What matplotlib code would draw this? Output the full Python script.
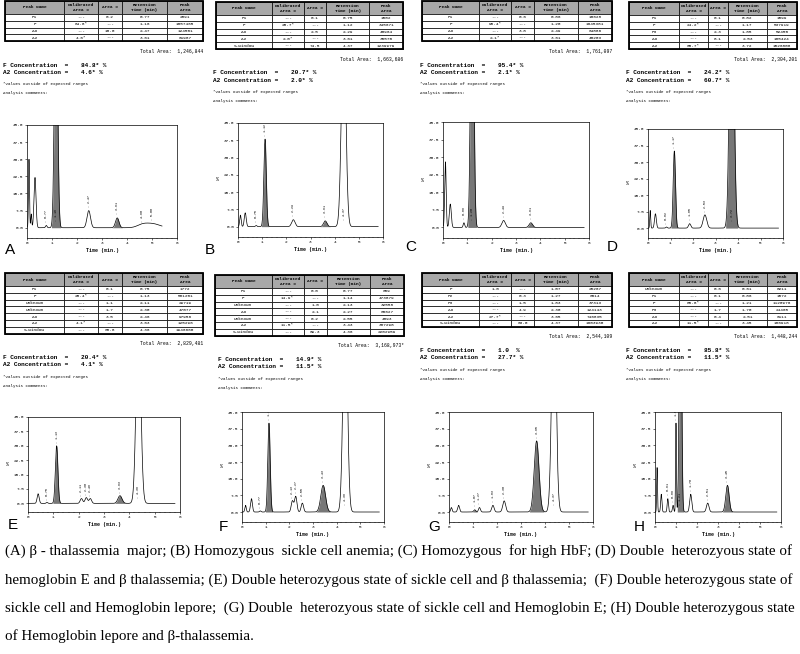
import numpy as np
import matplotlib.pyplot as plt
from matplotlib.patches import Rectangle

W, H = 800, 654
MONO = "Liberation Mono"

# ---- table data ----
col_labels = ["Peak Name", "Calibrated\nArea %", "Area %", "Retention\nTime (min)", "Peak\nArea"]

A_table = [["P1", "---", "0.2", "0.77", "2891"],
           ["F", "84.8*", "---", "1.16", "1057465"],
           ["Ao", "---", "10.0", "2.47", "124501"],
           ["A2", "4.6*", "---", "3.61", "61987"]]
B_table = [["P1", "---", "0.1", "0.75", "1502"],
           ["F", "20.7*", "---", "1.12", "345671"],
           ["Ao", "---", "2.5", "2.29", "40964"],
           ["A2", "2.0*", "---", "3.61", "35570"],
           ["S-window", "---", "74.5", "4.37", "1239979"]]
C_table = [["P1", "---", "0.6", "0.86", "10628"],
           ["F", "95.4*", "---", "1.20", "1645381"],
           ["Ao", "---", "3.8", "2.49", "64886"],
           ["A2", "2.1*", "---", "3.61", "40203"]]
D_table = [["P1", "---", "0.1", "0.82", "1599"],
           ["F", "24.2*", "---", "1.17", "537919"],
           ["P3", "---", "2.3", "1.85", "52450"],
           ["Ao", "---", "8.1", "2.53", "185424"],
           ["A2", "60.7*", "---", "3.72", "1526808"]]
E_table = [["P1", "---", "0.1", "0.75", "1772"],
           ["F", "20.4*", "---", "1.13", "581201"],
           ["Unknown", "---", "1.1", "2.11", "29719"],
           ["Unknown", "---", "1.7", "2.30", "47077"],
           ["Ao", "---", "3.5", "2.46", "97956"],
           ["A2", "4.1*", "---", "3.63", "125296"],
           ["S-window", "---", "68.8", "4.36", "1946660"]]
F_table = [["P1", "---", "0.0", "0.77", "659"],
           ["F", "14.9*", "---", "1.14", "473879"],
           ["Unknown", "---", "1.0", "2.13", "32558"],
           ["Ao", "---", "2.1", "2.27", "66627"],
           ["Unknown", "---", "0.2", "2.55", "4893"],
           ["A2", "11.5*", "---", "3.43", "387298"],
           ["S-window", "---", "69.3", "4.36", "2202959"]]
G_table = [["F", "1.0", "---", "1.07", "25267"],
           ["P2", "---", "0.3", "1.27", "6614"],
           ["P3", "---", "1.5", "1.83", "37313"],
           ["Ao", "---", "4.9", "2.30", "124143"],
           ["A2", "27.7*", "---", "3.65", "746835"],
           ["S-window", "---", "63.0", "4.37", "1603930"]]
H_table = [["Unknown", "---", "0.6", "0.61", "8211"],
           ["P1", "---", "0.1", "0.86", "1572"],
           ["F", "85.8*", "---", "1.21", "1120976"],
           ["P3", "---", "1.7", "1.70", "24465"],
           ["Ao", "---", "0.4", "2.51", "6111"],
           ["A2", "11.5*", "---", "3.45", "186918"]]

totals = ["1,246,844", "1,663,686", "1,761,097", "2,304,201",
          "2,829,481", "3,168,973*", "2,544,109", "1,448,244"]
f_conc = ["84.8*", "20.7*", "95.4*", "24.2*", "20.4*", "14.9*", "1.0 ", "85.8*"]
a2_conc = ["4.6*", "2.0*", "2.1*", "60.7*", "4.1*", "11.5*", "27.7*", "11.5*"]

# ---- chromatogram peaks (time min, height %, width min) ----
A_pk_t = [0.08, 0.17, 0.32, 0.77, 1.16, 2.47, 3.61, 4.6, 5.0]
A_pk_h = [30, 6, 22, 1.0, 120, 7.5, 4.3, 1.0, 1.8]
A_pk_w = [0.02, 0.02, 0.04, 0.03, 0.06, 0.07, 0.07, 0.2, 0.3]
B_pk_t = [0.1, 0.3, 0.75, 1.12, 2.29, 3.61, 4.37]
B_pk_h = [5, 6, 0.5, 38, 3, 2.5, 90]
B_pk_w = [0.03, 0.04, 0.03, 0.05, 0.07, 0.07, 0.09]
C_pk_t = [0.1, 0.3, 0.86, 1.20, 2.49, 3.61]
C_pk_h = [28, 10, 2, 150, 3, 2]
C_pk_w = [0.03, 0.04, 0.03, 0.06, 0.07, 0.07]
D_pk_t = [0.1, 0.33, 0.82, 1.17, 1.85, 2.53, 3.72]
D_pk_h = [8, 6.5, 0.5, 35, 2, 6, 150]
D_pk_w = [0.02, 0.04, 0.03, 0.05, 0.05, 0.08, 0.09]
E_pk_t = [0.4, 0.75, 1.13, 2.11, 2.30, 2.46, 3.63, 4.36]
E_pk_h = [5, 0.5, 30, 2.5, 3, 2.5, 4, 100]
E_pk_w = [0.04, 0.03, 0.05, 0.05, 0.05, 0.05, 0.08, 0.09]
F_pk_t = [0.15, 0.4, 0.77, 1.14, 2.13, 2.27, 2.55, 3.43, 4.36]
F_pk_h = [3, 6, 0.5, 40, 5, 7, 4, 12, 100]
F_pk_w = [0.03, 0.04, 0.03, 0.05, 0.05, 0.05, 0.05, 0.1, 0.09]
G_pk_t = [0.1, 0.4, 1.07, 1.27, 1.83, 2.30, 3.65, 4.37]
G_pk_h = [2, 3, 1.0, 2, 3, 5, 32, 100]
G_pk_w = [0.03, 0.04, 0.04, 0.04, 0.05, 0.06, 0.1, 0.09]
H_pk_t = [0.1, 0.3, 0.61, 0.86, 1.0, 1.21, 1.70, 2.51, 3.45]
H_pk_h = [20, 8, 6, 3, 40, 150, 8, 4, 12]
H_pk_w = [0.02, 0.03, 0.03, 0.03, 0.02, 0.05, 0.05, 0.06, 0.08]

fill_rts = [[1.16, 3.61], [1.12, 3.61], [1.20, 3.61], [1.17, 3.72],
            [1.13, 3.63], [1.14, 3.43], [1.07, 3.65], [1.21, 3.45]]
trace_end = [5.4, 5.8, 5.8, 5.8, 5.8, 5.8, 5.8, 5.8]

caption = [
    "(A) \u03b2 - thalassemia  major; (B) Homozygous  sickle cell anemia; (C) Homozygous  for high HbF; (D) Double  heterozyous state of",
    "hemoglobin E and \u03b2 thalassemia; (E) Double heterozygous state of sickle cell and \u03b2 thalassemia;  (F) Double heterozygous state of",
    "sickle cell and Hemoglobin lepore;  (G) Double  heterozyous state of sickle cell and Hemoglobin E; (H) Double heterozygous state",
    "of Hemoglobin lepore and \u03b2-thalassemia.",
]

tables = [A_table, B_table, C_table, D_table, E_table, F_table, G_table, H_table]
peaks = [(A_pk_t, A_pk_h, A_pk_w), (B_pk_t, B_pk_h, B_pk_w), (C_pk_t, C_pk_h, C_pk_w),
         (D_pk_t, D_pk_h, D_pk_w), (E_pk_t, E_pk_h, E_pk_w), (F_pk_t, F_pk_h, F_pk_w),
         (G_pk_t, G_pk_h, G_pk_w), (H_pk_t, H_pk_h, H_pk_w)]
letters = list("ABCDEFGH")

# ---- layout (pixels) ----
table_pos = [(5, 1, 203), (216, 2, 403), (422, 1, 612), (629, 2, 797),
             (5, 273, 203), (215, 275, 404), (422, 273, 612), (629, 273, 797)]
text_x = [3, 213, 420, 626, 3, 218, 420, 626]
chrom_pos = [(27, 125, 177, 238), (238, 123, 383, 237), (443, 122, 589, 238), (648, 129, 783, 238),
             (28, 417, 180, 512), (242, 412, 384, 522), (449, 412, 593, 522), (655, 412, 781, 522)]
letter_pos = [(5, 250), (205, 250), (405, 247), (607, 247),
              (8, 525), (219, 527), (428, 527), (634, 527)]
HEAD_H, ROW_H = 13, 6.8


def px_rect(x0, y0, x1, y1):
    return [x0 / W, 1 - y1 / H, (x1 - x0) / W, (y1 - y0) / H]


def ftext(fig, x, y, s, **kw):
    return fig.text(x / W, 1 - y / H, s, **kw)


def draw_table(fig, rows, x0, y0, x1):
    h = HEAD_H + ROW_H * len(rows)
    ax = fig.add_axes(px_rect(x0, y0, x1, y0 + h))
    ax.axis("off")
    tb = ax.table(cellText=rows, colLabels=col_labels, cellLoc="center",
                  colWidths=[0.3, 0.17, 0.12, 0.23, 0.18], bbox=[0, 0, 1, 1])
    tb.auto_set_font_size(False)
    tb.set_fontsize(3.2)
    for (r, c), cell in tb.get_celld().items():
        cell.set_linewidth(0.5)
        cell.PAD = 0.04
        cell.get_text().set_fontfamily(MONO)
        if r == 0:
            cell.set_height(HEAD_H / ROW_H)
            cell.set_facecolor("#a8a8a8")
            cell.get_text().set_fontweight("bold")
            cell.get_text().set_linespacing(1.1)
        else:
            cell.set_height(1.0)
        if c == 4 and r > 0:
            cell._loc = "right"
    ax.add_patch(Rectangle((0, 0), 1, 1, transform=ax.transAxes, fill=False,
                           lw=1.3, ec="k", clip_on=False))
    return y0 + h


def draw_chrom(fig, rect, pk, fills, t_end):
    t_pk, h_pk, w_pk = pk
    ax = fig.add_axes(px_rect(*rect))
    t = np.linspace(0.02, t_end, 4000)
    y = np.zeros_like(t)
    for tp, hp, wp in zip(t_pk, h_pk, w_pk):
        y += hp * np.exp(-0.5 * ((t - tp) / wp) ** 2)
    for rt in fills:
        i = int(np.argmin(np.abs(np.array(t_pk) - rt)))
        mask = np.abs(t - t_pk[i]) < 3 * w_pk[i]
        ax.fill_between(t, 0, y, where=mask, color="#777777", lw=0)
    ax.plot(t, y, color="k", lw=0.5)
    ax.set_xlim(0, 6)
    ax.set_ylim(-4.5, 45)
    yt = [0, 7.5, 15, 22.5, 30, 37.5, 45]
    ax.set_yticks(yt)
    ax.set_yticklabels([f"{v:.1f}" for v in yt])
    ax.set_xticks(range(7))
    ax.set_xticks(np.arange(0, 6.01, 0.2), minor=True)
    ax.tick_params(labelsize=3.2, length=1.5, width=0.4, pad=1)
    ax.tick_params(which="minor", length=1, width=0.3)
    for lab in ax.get_xticklabels() + ax.get_yticklabels():
        lab.set_fontfamily(MONO)
    for sp in ax.spines.values():
        sp.set_linewidth(0.5)
    ax.set_xlabel("Time (min.)", fontsize=3.6, fontfamily=MONO,
                  fontweight="bold", labelpad=2)
    # retention time labels above peaks
    for tp, hp in zip(t_pk, h_pk):
        if tp < 0.6:
            continue
        yl = 3 if hp > 45 else hp + 1.5
        ax.text(tp, yl, f"- {tp:.2f}", rotation=90, fontsize=2.3,
                fontfamily=MONO, ha="center", va="bottom", clip_on=True)
    return ax


fig = plt.figure(figsize=(8, 6.54), dpi=100)

for k in range(8):
    x0, y0, x1 = table_pos[k]
    yb = draw_table(fig, tables[k], x0, y0, x1)
    tx = text_x[k]
    ftext(fig, x1, yb + 10, "Total Area:  " + totals[k], fontsize=3.4,
          family=MONO, ha="right", va="center")
    ftext(fig, tx, yb + 24, "F Concentration  =", fontsize=4.4,
          family=MONO, weight="bold", va="center")
    ftext(fig, tx + 78, yb + 24, f_conc[k] + " %", fontsize=4.4,
          family=MONO, weight="bold", va="center")
    ftext(fig, tx, yb + 31, "A2 Concentration =", fontsize=4.4,
          family=MONO, weight="bold", va="center")
    ftext(fig, tx + 78, yb + 31, a2_conc[k] + " %", fontsize=4.4,
          family=MONO, weight="bold", va="center")
    ftext(fig, tx, yb + 43, "*Values outside of expected ranges", fontsize=3.0,
          family=MONO, va="center")
    ftext(fig, tx, yb + 52, "Analysis comments:", fontsize=3.0,
          family=MONO, va="center")

    ax = draw_chrom(fig, chrom_pos[k], peaks[k], fill_rts[k], trace_end[k])
    if k != 0:
        ax.set_ylabel("%", fontsize=3.5, fontfamily=MONO, rotation=0,
                      labelpad=5, va="center")
    lx, ly = letter_pos[k]
    ftext(fig, lx, ly, letters[k], fontsize=11, family="Liberation Sans",
          va="center")

# caption: first lines fitted to the text block width
cap_y = [551, 580, 608, 636]
renderer = fig.canvas.get_renderer()
base_fs = 11
fitted = []
for i, (line, yy) in enumerate(zip(caption, cap_y)):
    t = ftext(fig, 5, yy, line, fontsize=base_fs, family="Liberation Serif", va="center")
    if i < 3:
        wpx = t.get_window_extent(renderer).width
        t.set_fontsize(base_fs * 786 / wpx)
        fitted.append(base_fs * 786 / wpx)
    else:
        t.set_fontsize(min(fitted))

fig.savefig("out.png", dpi=100)
